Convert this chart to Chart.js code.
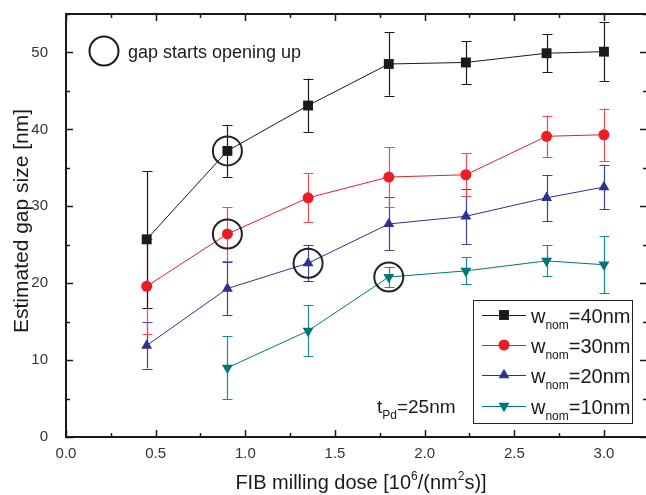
<!DOCTYPE html>
<html><head><meta charset="utf-8">
<style>
html,body{margin:0;padding:0;background:#fff;overflow:hidden}
#wrap{width:646px;height:495px;overflow:hidden;position:relative;background:#fff}
canvas{display:block}
</style>
<script src="https://cdn.jsdelivr.net/npm/chart.js@4/dist/chart.umd.min.js"></script>
</head><body>
<div id="wrap"><canvas id="c" width="652" height="495" style="width:652px;height:495px"></canvas></div>
<script>
// ---- data ----
const doses = [0.45, 0.9, 1.35, 1.8, 2.23, 2.68, 3.0];
const gap40 = [25.7, 37.2, 43.1, 48.5, 48.7, 49.9, 50.1];
const err40 = [8.9, 3.4, 3.5, 4.1, 2.8, 2.5, 3.8];
const gap30 = [19.6, 26.4, 31.1, 33.8, 34.1, 39.1, 39.3];
const err30 = [6.2, 3.5, 3.2, 3.9, 2.8, 2.7, 3.4];
const gap20 = [11.9, 19.3, 22.6, 27.7, 28.7, 31.1, 32.5];
const err20 = [3.0, 3.5, 2.35, 3.45, 3.6, 3.0, 2.9];
const gap10 = [null, 9.0, 13.8, 20.8, 21.6, 22.9, 22.4];
const err10 = [null, 4.1, 3.3, 1.25, 1.75, 2.0, 3.7];
// points where the gap starts opening up
const openDose = [0.9, 0.9, 1.35, 1.8];
const openGap = [37.2, 26.4, 22.6, 20.8];
const seriesNames = ['40nm', '30nm', '20nm', '10nm'];
const xTicks = [0, 0.5, 1.0, 1.5, 2.0, 2.5, 3.0];
const yTicks = [0, 10, 20, 30, 40, 50];

const FONT = "'Liberation Sans', Arial, sans-serif";
const colors = ['#1a1a1a', '#ee1c25', '#2e3192', '#00767b'];
const errColors = ['#1a1a1a', '#f04a52', '#3f43a0', '#1a8a8f'];
const styles = [
  {pointStyle:'rect', radius:7, rotation:0},
  {pointStyle:'circle', radius:5.5, rotation:0},
  {pointStyle:'triangle', radius:6.3, rotation:0},
  {pointStyle:'triangle', radius:6.3, rotation:180}
];
const gaps = [gap40, gap30, gap20, gap10];
const errs = [err40, err30, err20, err10];

function pts(arr){ const o=[]; arr.forEach((v,i)=>{ if(v!==null) o.push({x:doses[i], y:v}); }); return o; }

const datasets = gaps.map((g,k)=>({
  label: 'w_nom=' + seriesNames[k],
  data: pts(g),
  errors: errs[k].filter(v=>v!==null),
  borderColor: colors[k],
  backgroundColor: colors[k],
  borderWidth: 1,
  pointStyle: styles[k].pointStyle,
  pointRadius: styles[k].radius,
  pointRotation: styles[k].rotation,
  pointBorderWidth: 0,
  pointHoverRadius: styles[k].radius,
  showLine: true,
  tension: 0,
  order: 1 + (3-k)
}));
datasets.push({
  label: 'opening',
  data: openDose.map((d,i)=>({x:d, y:openGap[i]})),
  showLine: false,
  pointStyle: 'circle',
  pointRadius: 14.5,
  pointHoverRadius: 14.5,
  pointBorderWidth: 2,
  pointBorderColor: '#222',
  pointBackgroundColor: 'rgba(0,0,0,0)',
  borderColor: '#222',
  backgroundColor: 'rgba(0,0,0,0)',
  order: 0
});

const errorBars = {
  id: 'errorBars',
  beforeDatasetsDraw(chart){
    const ctx = chart.ctx, xs = chart.scales.x, ys = chart.scales.y;
    ctx.save();
    for (let k=3;k>=0;k--){
      const ds = chart.data.datasets[k];
      ctx.strokeStyle = errColors[k];
      ctx.lineWidth = 1.2;
      ds.data.forEach((p,i)=>{
        const e = ds.errors[i];
        const px = Math.round(xs.getPixelForValue(p.x))+0.5;
        const top = ys.getPixelForValue(p.y+e), bot = ys.getPixelForValue(p.y-e);
        ctx.beginPath();
        ctx.moveTo(px, top); ctx.lineTo(px, bot);
        ctx.moveTo(px-5, Math.round(top)+0.5); ctx.lineTo(px+5, Math.round(top)+0.5);
        ctx.moveTo(px-5, Math.round(bot)+0.5); ctx.lineTo(px+5, Math.round(bot)+0.5);
        ctx.stroke();
      });
    }
    ctx.restore();
  }
};

function drawSubText(ctx, x, y, parts){
  let cx = x;
  parts.forEach(([t,size,dy])=>{
    ctx.font = size + 'px ' + FONT;
    ctx.fillText(t, cx, y+dy);
    cx += ctx.measureText(t).width;
  });
  return cx;
}

const frame = {
  id: 'frame',
  afterDatasetsDraw(chart){
    const ctx = chart.ctx, a = chart.chartArea, xs = chart.scales.x, ys = chart.scales.y;
    ctx.save();
    ctx.strokeStyle = '#1a1a1a';
    ctx.lineWidth = 2;
    ctx.beginPath();
    ctx.moveTo(a.left, a.top); ctx.lineTo(a.right, a.top); ctx.lineTo(a.right, a.bottom); ctx.lineTo(a.left, a.bottom); ctx.closePath();
    ctx.stroke();
    ctx.lineWidth = 1.5;
    ctx.beginPath();
    for (let v=0; v<=3.2+1e-9; v+=0.25){
      const px = Math.round(xs.getPixelForValue(v))+0.5;
      const major = Math.abs(v*2 - Math.round(v*2)) < 1e-6;
      const L = major ? 7 : 4;
      ctx.moveTo(px, a.bottom); ctx.lineTo(px, a.bottom-L);
      ctx.moveTo(px, a.top); ctx.lineTo(px, a.top+L);
    }
    for (let v=0; v<=55+1e-9; v+=5){
      const py = Math.round(ys.getPixelForValue(v))+0.5;
      const major = (v % 10) === 0;
      const L = major ? 7 : 4;
      ctx.moveTo(a.left, py); ctx.lineTo(a.left+L, py);
      ctx.moveTo(a.right, py); ctx.lineTo(a.right-L, py);
    }
    ctx.stroke();
    ctx.restore();
  },
  afterDraw(chart){
    const ctx = chart.ctx;
    ctx.save();
    ctx.fillStyle = '#1a1a1a';
    ctx.textAlign = 'left';
    ctx.textBaseline = 'alphabetic';
    const xParts = [['FIB milling dose [10',20,0],['6',12,-9],['/(nm',20,0],['2',12,-9],['s)]',20,0]];
    let w = 0; xParts.forEach(([t,s])=>{ ctx.font = s+'px '+FONT; w += ctx.measureText(t).width; });
    drawSubText(ctx, 361 - w/2, 489, xParts);
    ctx.save();
    ctx.translate(28, 221);
    ctx.rotate(-Math.PI/2);
    ctx.font = '21px ' + FONT;
    ctx.textAlign = 'center';
    ctx.fillText('Estimated gap size [nm]', 0, 0);
    ctx.restore();
    ctx.strokeStyle = '#1a1a1a';
    ctx.lineWidth = 2;
    ctx.beginPath(); ctx.arc(104, 51, 14.5, 0, Math.PI*2); ctx.stroke();
    ctx.font = '18px ' + FONT;
    ctx.fillText('gap starts opening up', 128, 58);
    drawSubText(ctx, 377, 413, [['t',19,0],['Pd',12,6],['=25nm',19,0]]);
    ctx.lineWidth = 1;
    ctx.strokeStyle = '#222';
    ctx.strokeRect(473.5, 300.5, 159, 123);
    const rows = [315, 345, 375, 406];
    rows.forEach((ry,k)=>{
      ctx.strokeStyle = colors[k];
      ctx.lineWidth = 1;
      ctx.beginPath(); ctx.moveTo(482, ry+0.5); ctx.lineTo(526, ry+0.5); ctx.stroke();
      ctx.fillStyle = colors[k];
      Chart.helpers.drawPoint(ctx, {pointStyle: styles[k].pointStyle, radius: styles[k].radius, rotation: styles[k].rotation, borderWidth: 0}, 504, ry);
      ctx.fillStyle = '#1a1a1a';
      drawSubText(ctx, 531, ry+8, [['w',20,0],['nom',12,6],['='+seriesNames[k],20,0]]);
    });
    ctx.restore();
  }
};

function noPad(s){ s.paddingTop = 0; s.paddingBottom = 0; s.paddingLeft = 0; s.paddingRight = 0; }

new Chart(document.getElementById('c'), {
  type: 'scatter',
  data: { datasets },
  options: {
    responsive: false,
    animation: false,
    devicePixelRatio: 1,
    layout: { autoPadding: false, padding: { top: 14, right: 5, left: 0, bottom: 0 } },
    plugins: { legend: { display: false }, tooltip: { enabled: false } },
    scales: {
      x: {
        type: 'linear', min: 0, max: 3.24,
        afterFit(s){ s.height = 58; noPad(s); },
        afterBuildTicks(s){ s.ticks = xTicks.map(v=>({value:v})); },
        grid: { display: false, drawTicks: false },
        border: { display: false },
        ticks: { padding: 8, color: '#333', font: { family: FONT, size: 15 }, callback: v => v.toFixed(1), maxRotation: 0, autoSkip: false }
      },
      y: {
        type: 'linear', min: 0, max: 55,
        afterFit(s){ s.width = 66; noPad(s); },
        afterBuildTicks(s){ s.ticks = yTicks.map(v=>({value:v})); },
        grid: { display: false, drawTicks: false },
        border: { display: false },
        ticks: { padding: 18, color: '#333', font: { family: FONT, size: 15 }, autoSkip: false }
      }
    }
  },
  plugins: [errorBars, frame]
});
</script>
</body></html>
